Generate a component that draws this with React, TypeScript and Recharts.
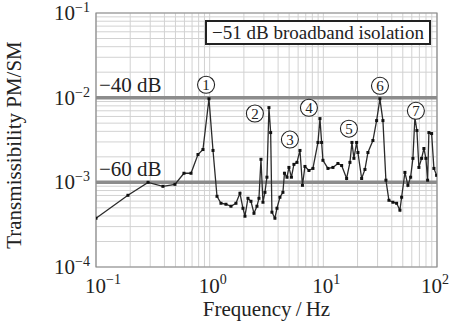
import React from 'react';
import { ComposedChart, Line, Scatter, XAxis, YAxis, CartesianGrid, ReferenceLine, ReferenceArea } from 'recharts';

// measured transmissibility (PM/SM) vs frequency
const freqHz = [
  0.1, 0.191, 0.287, 0.388, 0.495, 0.594, 0.685, 0.789, 0.873, 0.986,
  1.07, 1.16, 1.257, 1.391, 1.539, 1.703, 1.847, 1.963, 2.044, 2.172,
  2.308, 2.453, 2.606, 2.714, 2.827, 2.943, 3.064, 3.19, 3.323, 3.44,
  3.53, 3.75, 3.91, 4.15, 4.41, 4.55, 4.79, 4.98, 5.24, 5.51,
  5.86, 6.23, 6.55, 6.89, 7.47, 8.1, 8.97, 9.34, 9.66, 9.92,
  10.98, 12.15, 13.44, 14.49, 16.03, 17.14, 17.85, 18.58, 19.63, 20.15,
  21.73, 23.23, 24.68, 27.3, 29.43, 31.46, 33.44, 35.53, 37.76, 40.94,
  44.13, 47.18, 48.84, 52.22, 55.47, 58.59, 61.38, 63.92, 66.56, 69.31,
  73.21, 76.7, 79.87, 82.66, 84.88, 89.66, 93.94, 99.2,
];
const transmissibility = [
  3.77e-4, 7.03e-4, 1.0e-3, 8.97e-4, 9.47e-4, 1.28e-3, 1.28e-3, 2.13e-3, 2.44e-3, 9.7e-3,
  2.38e-3, 6.84e-4, 5.66e-4, 5.51e-4, 5.22e-4, 5.66e-4, 7.43e-4, 4.94e-4, 3.98e-4, 6.48e-4,
  5.97e-4, 4.31e-4, 5.22e-4, 6.48e-4, 1.87e-3, 5.82e-4, 7.62e-4, 1.15e-3, 7.63e-3, 3.87e-3,
  4.44e-4, 3.77e-4, 4.94e-4, 6.67e-4, 7.62e-4, 1.28e-3, 1.15e-3, 1.5e-3, 1.15e-3, 1.63e-3,
  1.72e-3, 2.38e-3, 9.22e-4, 1.54e-3, 1.38e-3, 1.46e-3, 2.96e-3, 5.66e-3, 2.96e-3, 1.82e-3,
  1.46e-3, 1.5e-3, 1.67e-3, 1.58e-3, 1.11e-3, 1.72e-3, 2.96e-3, 1.92e-3, 2.96e-3, 2.25e-3,
  1.11e-3, 1.42e-3, 2.25e-3, 3.12e-3, 5.36e-3, 9.7e-3, 5.36e-3, 1.06e-3, 6.14e-4, 5.82e-4,
  5.66e-4, 4.69e-4, 6.67e-4, 1.31e-3, 9.22e-4, 1.15e-3, 1.92e-3, 5.82e-3, 4.09e-3, 1.5e-3,
  1.92e-3, 2.51e-3, 1.92e-3, 1.06e-3, 3.87e-3, 3.77e-3, 1.46e-3, 1.21e-3,
];

// peak markers (circled numbers)
const peakLabels = ['1', '2', '3', '4', '5', '6', '7'];
const peakFreq = [0.93, 2.5, 5.08, 7.47, 16.8, 31.5, 65.2];
const peakLevel = [1.42e-2, 6.5e-3, 3.2e-3, 7.6e-3, 4.3e-3, 1.38e-2, 7.0e-3];

const xTicks = [
  0.1, 0.2, 0.3, 0.4, 0.5, 0.6, 0.7, 0.8, 0.9,
  1, 2, 3, 4, 5, 6, 7, 8, 9,
  10, 20, 30, 40, 50, 60, 70, 80, 90, 100,
];
const yTicks = [
  0.0001, 0.0002, 0.0003, 0.0004, 0.0005, 0.0006, 0.0007, 0.0008, 0.0009,
  0.001, 0.002, 0.003, 0.004, 0.005, 0.006, 0.007, 0.008, 0.009,
  0.01, 0.02, 0.03, 0.04, 0.05, 0.06, 0.07, 0.08, 0.09, 0.1,
];

const levelLines = [
  { value: 1e-2, text: '−40 dB' },
  { value: 1e-3, text: '−60 dB' },
];

const legendText = '−51 dB broadband isolation';

const data = freqHz.map((f, i) => ({ f, v: transmissibility[i] }));
const peaks = peakLabels.map((label, i) => ({ f: peakFreq[i], v: peakLevel[i], label }));

const FONT = '"Liberation Serif", "Times New Roman", serif';

const decadeExp = (v: number) => {
  const e = Math.log10(v);
  return Math.abs(e - Math.round(e)) < 1e-6 ? Math.round(e) : null;
};
const supText = (e: number) => (e < 0 ? '−' + Math.abs(e) : String(e));

const XTick = (props: any) => {
  const { x, y, payload } = props;
  const e = decadeExp(payload.value);
  if (e === null) return null;
  // last label is pulled in so it stays inside the picture
  const left = x + 30 > 451 ? 451 - 30 : x - 11;
  return (
    <text x={left} y={y + 18} textAnchor="start" fontFamily={FONT} fontSize={21} fill="#222">
      10<tspan dy={-9} fontSize={14}>{supText(e)}</tspan>
    </text>
  );
};

const YTick = (props: any) => {
  const { x, y, payload } = props;
  const e = decadeExp(payload.value);
  if (e === null) return null;
  return (
    <text x={x + 2} y={y + 7} textAnchor="end" fontFamily={FONT} fontSize={21} fill="#222">
      10<tspan dy={-8} fontSize={14}>{supText(e)}</tspan>
    </text>
  );
};

const SquareDot = (props: any) => {
  const { cx, cy } = props;
  if (cx == null || cy == null) return null;
  return <rect x={cx - 1.5} y={cy - 1.5} width={3} height={3} fill="#111" />;
};

const PeakMark = (props: any) => {
  const { cx, cy, payload } = props;
  return (
    <g>
      <circle cx={cx} cy={cy} r={8.5} fill="#fff" stroke="#222" strokeWidth={1.1} />
      <text x={cx} y={cy + 5} textAnchor="middle" fontFamily={FONT} fontSize={15} fill="#222">
        {payload.label}
      </text>
    </g>
  );
};

const App: React.FC = () => {
  return (
    <div style={{ position: 'absolute', left: 0, top: 0, width: 451, height: 322, background: '#fff' }}>
      <ComposedChart width={451} height={322} data={data} margin={{ top: 13, right: 14, bottom: 5, left: 36 }}>
        <CartesianGrid stroke="#d2d2d2" strokeWidth={1} />
        <XAxis
          dataKey="f"
          type="number"
          scale="log"
          domain={[0.1, 100]}
          ticks={xTicks}
          interval={0}
          allowDataOverflow
          axisLine={false}
          tickLine={false}
          tick={<XTick />}
          height={50}
          label={{ value: 'Frequency\u2009/\u2009Hz', position: 'insideBottom', offset: 1, fontFamily: FONT, fontSize: 21, fill: '#222' }}
        />
        <YAxis
          dataKey="v"
          type="number"
          scale="log"
          domain={[1e-4, 1e-1]}
          ticks={yTicks}
          interval={0}
          allowDataOverflow
          axisLine={false}
          tickLine={false}
          tick={<YTick />}
          width={60}
          label={{ value: 'Transmissibility PM/SM', angle: -90, position: 'insideLeft', offset: -22, dy: 5, fontFamily: FONT, fontSize: 21, fill: '#222', style: { textAnchor: 'middle' } }}
        />
        <ReferenceArea x1={0.1} x2={100} y1={1e-4} y2={1e-1} fill="none" stroke="#8a8a8a" strokeWidth={1.2} />
        {levelLines.map((l) => (
          <ReferenceLine
            key={l.text}
            y={l.value}
            stroke="#8c8c8c"
            strokeWidth={3.5}
            label={(p: any) => (
              <text x={p.viewBox.x + 3} y={p.viewBox.y - 6} fontFamily={FONT} fontSize={21} fill="#222">
                {l.text}
              </text>
            )}
          />
        ))}
        <Line
          dataKey="v"
          type="linear"
          stroke="#2a2a2a"
          strokeWidth={1.3}
          dot={<SquareDot />}
          activeDot={false}
          isAnimationActive={false}
        />
        <Scatter data={peaks} dataKey="v" shape={<PeakMark />} isAnimationActive={false} />
      </ComposedChart>
      <div
        style={{
          position: 'absolute',
          left: 205,
          top: 20,
          width: 222,
          height: 21,
          border: '2px solid #222',
          background: '#fff',
          fontFamily: FONT,
          fontSize: 19,
          lineHeight: '21px',
          color: '#222',
          textAlign: 'center',
          whiteSpace: 'nowrap',
        }}
      >
        {legendText}
      </div>
    </div>
  );
};

export default App;
